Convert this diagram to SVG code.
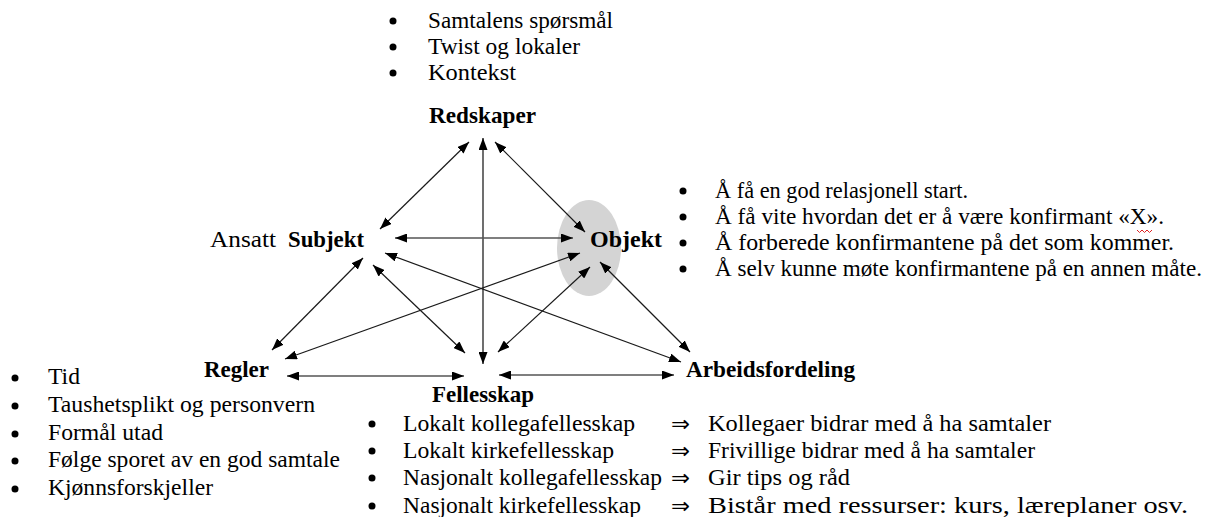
<svg xmlns="http://www.w3.org/2000/svg" width="1207" height="517" viewBox="0 0 1207 517" font-family="'Liberation Serif', 'Times New Roman', Times, serif">
<style>
text{font-family:"Liberation Serif",Times,serif;font-size:23px;fill:#000}
.b{font-weight:bold}
.c{fill:none;stroke:#1a1a1a;stroke-width:1.2}
.h{fill:none;stroke:#555;stroke-width:1.7}
.ar{font-family:"DejaVu Sans",sans-serif;font-size:21px}
.dot{fill:#000}
</style>
<defs>
<marker id="ah" viewBox="0 0 12 9" refX="12" refY="4.5" markerWidth="12" markerHeight="9" markerUnits="userSpaceOnUse" orient="auto-start-reverse">
<path d="M0,0 L12,4.5 L0,9 z" fill="#000"/>
</marker>
</defs>
<rect width="1207" height="517" fill="#fff"/>
<g id="objekt-shape"><ellipse cx="589" cy="248" rx="32" ry="48" fill="#d4d4d4"/></g>
<g id="connectors">
<line class="c" x1="380" y1="229" x2="469" y2="142" marker-start="url(#ah)" marker-end="url(#ah)"/>
<line class="h" x1="483" y1="138" x2="483" y2="364" marker-start="url(#ah)" marker-end="url(#ah)"/>
<line class="c" x1="495" y1="142" x2="585" y2="232" marker-start="url(#ah)" marker-end="url(#ah)"/>
<line class="h" x1="395" y1="238" x2="573" y2="238" marker-start="url(#ah)" marker-end="url(#ah)"/>
<line class="c" x1="385" y1="253" x2="681" y2="362" marker-start="url(#ah)" marker-end="url(#ah)"/>
<line class="c" x1="285" y1="359" x2="580" y2="253" marker-start="url(#ah)" marker-end="url(#ah)"/>
<line class="c" x1="363" y1="258" x2="272" y2="350" marker-start="url(#ah)" marker-end="url(#ah)"/>
<line class="c" x1="373" y1="265" x2="465" y2="353" marker-start="url(#ah)" marker-end="url(#ah)"/>
<line class="c" x1="590" y1="267" x2="498" y2="352" marker-start="url(#ah)" marker-end="url(#ah)"/>
<line class="c" x1="600" y1="262" x2="690" y2="352" marker-start="url(#ah)" marker-end="url(#ah)"/>
<line class="h" x1="287" y1="376" x2="464" y2="376" marker-start="url(#ah)" marker-end="url(#ah)"/>
<line class="h" x1="499" y1="375" x2="674" y2="375" marker-start="url(#ah)" marker-end="url(#ah)"/>
</g>
<g id="redskaper">
<circle class="dot" cx="393" cy="21" r="3.5"/><text x="428" y="28" textLength="185" lengthAdjust="spacingAndGlyphs">Samtalens spørsmål</text>
<circle class="dot" cx="393" cy="47" r="3.5"/><text x="428" y="54" textLength="152" lengthAdjust="spacingAndGlyphs">Twist og lokaler</text>
<circle class="dot" cx="393" cy="73" r="3.5"/><text x="428" y="80" textLength="88" lengthAdjust="spacingAndGlyphs">Kontekst</text>
<text class="b" x="429" y="123" textLength="107" lengthAdjust="spacingAndGlyphs">Redskaper</text>
</g>
<g id="subjekt">
<text x="210" y="247" textLength="66" lengthAdjust="spacingAndGlyphs">Ansatt</text>
<text class="b" x="288" y="247" textLength="76" lengthAdjust="spacingAndGlyphs">Subjekt</text>
</g>
<g id="objekt">
<text class="b" x="590" y="247" textLength="72" lengthAdjust="spacingAndGlyphs">Objekt</text>
<circle class="dot" cx="683" cy="191" r="3.5"/><text x="715" y="198" textLength="253" lengthAdjust="spacingAndGlyphs">Å få en god relasjonell start.</text>
<circle class="dot" cx="683" cy="217" r="3.5"/><text x="715" y="224" textLength="449" lengthAdjust="spacingAndGlyphs">Å få vite hvordan det er å være konfirmant «X».</text>
<path d="M1137,230 l2.5,2.5 l2.5,-2.5 l2.5,2.5 l2.5,-2.5 l2.5,2.5 l2.5,-2.5" fill="none" stroke="#d22" stroke-width="1"/>
<circle class="dot" cx="683" cy="243" r="3.5"/><text x="715" y="250" textLength="459" lengthAdjust="spacingAndGlyphs">Å forberede konfirmantene på det som kommer.</text>
<circle class="dot" cx="683" cy="269" r="3.5"/><text x="715" y="276" textLength="487" lengthAdjust="spacingAndGlyphs">Å selv kunne møte konfirmantene på en annen måte.</text>
</g>
<g id="regler">
<text class="b" x="204" y="377" textLength="65" lengthAdjust="spacingAndGlyphs">Regler</text>
<circle class="dot" cx="15" cy="378" r="3.5"/><text x="48" y="384" textLength="32" lengthAdjust="spacingAndGlyphs">Tid</text>
<circle class="dot" cx="15" cy="406" r="3.5"/><text x="48" y="412" textLength="267" lengthAdjust="spacingAndGlyphs">Taushetsplikt og personvern</text>
<circle class="dot" cx="15" cy="434" r="3.5"/><text x="48" y="440" textLength="115" lengthAdjust="spacingAndGlyphs">Formål utad</text>
<circle class="dot" cx="15" cy="461" r="3.5"/><text x="48" y="467" textLength="292" lengthAdjust="spacingAndGlyphs">Følge sporet av en god samtale</text>
<circle class="dot" cx="15" cy="489" r="3.5"/><text x="48" y="495" textLength="165" lengthAdjust="spacingAndGlyphs">Kjønnsforskjeller</text>
</g>
<g id="arbeidsfordeling">
<text class="b" x="686" y="377" textLength="169" lengthAdjust="spacingAndGlyphs">Arbeidsfordeling</text>
</g>
<g id="fellesskap">
<text class="b" x="432" y="402" textLength="102" lengthAdjust="spacingAndGlyphs">Fellesskap</text>
<circle class="dot" cx="372" cy="424" r="3.5"/><text x="403" y="431" textLength="232" lengthAdjust="spacingAndGlyphs">Lokalt kollegafellesskap</text>
<circle class="dot" cx="372" cy="451" r="3.5"/><text x="403" y="458" textLength="211" lengthAdjust="spacingAndGlyphs">Lokalt kirkefellesskap</text>
<circle class="dot" cx="372" cy="478" r="3.5"/><text x="403" y="485" textLength="259" lengthAdjust="spacingAndGlyphs">Nasjonalt kollegafellesskap</text>
<circle class="dot" cx="372" cy="506" r="3.5"/><text x="403" y="513" textLength="238" lengthAdjust="spacingAndGlyphs">Nasjonalt kirkefellesskap</text>
<text class="ar" x="671" y="431" textLength="19" lengthAdjust="spacingAndGlyphs">⇒</text><text x="708" y="431" textLength="343" lengthAdjust="spacingAndGlyphs">Kollegaer bidrar med å ha samtaler</text>
<text class="ar" x="671" y="458" textLength="19" lengthAdjust="spacingAndGlyphs">⇒</text><text x="708" y="458" textLength="327" lengthAdjust="spacingAndGlyphs">Frivillige bidrar med å ha samtaler</text>
<text class="ar" x="671" y="485" textLength="19" lengthAdjust="spacingAndGlyphs">⇒</text><text x="708" y="485" textLength="142" lengthAdjust="spacingAndGlyphs">Gir tips og råd</text>
<text class="ar" x="671" y="513" textLength="19" lengthAdjust="spacingAndGlyphs">⇒</text><text x="708" y="513" textLength="480" lengthAdjust="spacingAndGlyphs">Bistår med ressurser: kurs, læreplaner osv.</text>
</g>
</svg>
